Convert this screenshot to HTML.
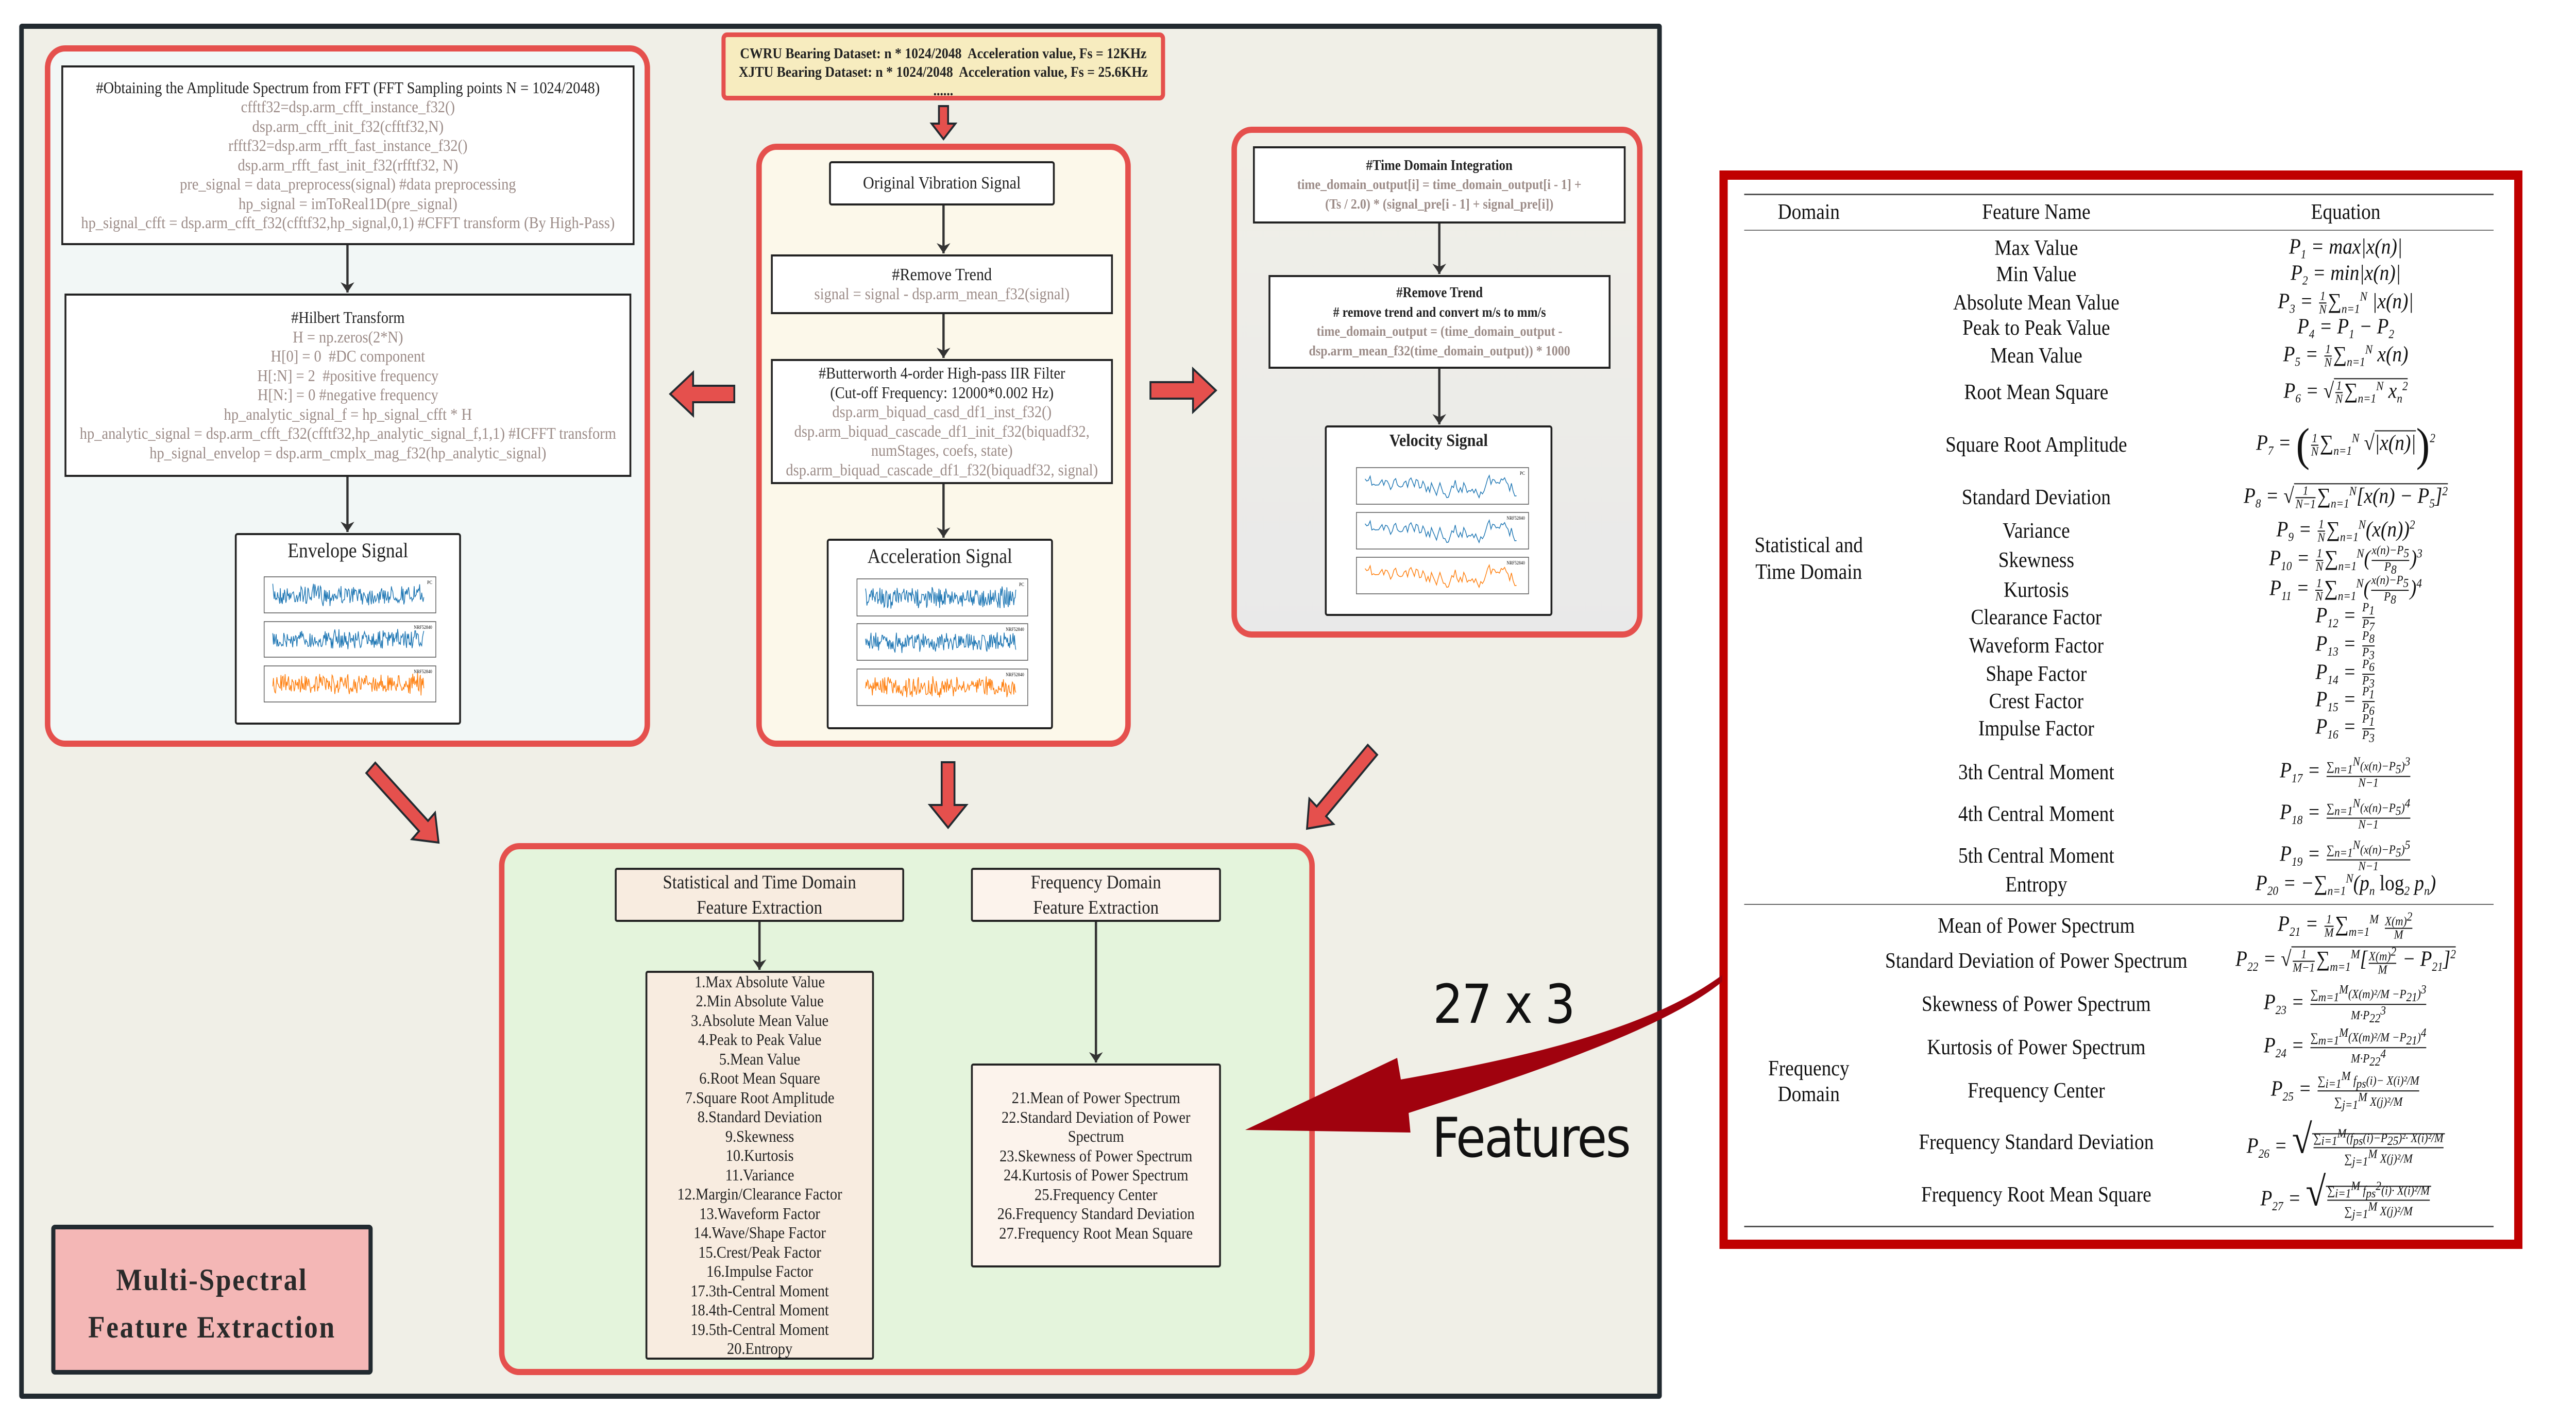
<!DOCTYPE html>
<html><head><meta charset="utf-8">
<style>
*{margin:0;padding:0;box-sizing:border-box}
html,body{overflow:hidden;background:#fff}
#wrap{position:absolute;left:0;top:0;width:5627px;height:2763px;overflow:hidden;font-family:"Liberation Serif",serif;color:#222;transform-origin:0 0}
.a{position:absolute}
.panel{position:absolute;border:12px solid #e5504d;border-radius:44px}
.box{position:absolute;border:4px solid #222;background:#fff;display:flex;flex-direction:column;justify-content:center;align-items:center;text-align:center;white-space:nowrap;overflow:hidden}
.box div{line-height:37.5px;font-size:32px}
.g{color:#9c8c88}
.h{color:#222}
.t{position:absolute;font-family:"Liberation Serif",serif;font-size:42px;color:#111;white-space:nowrap;transform:translate(-50%,-50%)}
.eq{font-style:italic}
.fr{display:inline-flex;flex-direction:column;vertical-align:middle;font-size:24px;line-height:24px;text-align:center;margin:0 3px}
.fr>span:first-child{border-bottom:2px solid #111}
sub,sup{font-size:24px}
.up{font-style:normal}
</style></head><body><div id="wrap">

<div class="a" style="left:42px;top:46px;width:3588px;height:2670px;background:#f0efe7;border:10px solid #222a30;border-radius:6px"></div>

<div class="panel" style="left:98px;top:88px;width:1322px;height:1362px;background:#f2f7f6"></div>
<div class="box" style="left:134px;top:127px;width:1252px;height:349px">
 <div class="h">#Obtaining the Amplitude Spectrum from FFT (FFT Sampling points N = 1024/2048)</div>
 <div class="g">cfftf32=dsp.arm_cfft_instance_f32()</div>
 <div class="g">dsp.arm_cfft_init_f32(cfftf32,N)</div>
 <div class="g">rfftf32=dsp.arm_rfft_fast_instance_f32()</div>
 <div class="g">dsp.arm_rfft_fast_init_f32(rfftf32, N)</div>
 <div class="g">pre_signal = data_preprocess(signal) #data preprocessing</div>
 <div class="g">hp_signal = imToReal1D(pre_signal)</div>
 <div class="g">hp_signal_cfft = dsp.arm_cfft_f32(cfftf32,hp_signal,0,1) #CFFT transform (By High-Pass)</div>
</div>
<div class="box" style="left:141px;top:570px;width:1238px;height:356px">
 <div class="h">#Hilbert Transform</div>
 <div class="g">H = np.zeros(2*N)</div>
 <div class="g">H[0] = 0&nbsp; #DC component</div>
 <div class="g">H[:N] = 2&nbsp; #positive frequency</div>
 <div class="g">H[N:] = 0 #negative frequency</div>
 <div class="g">hp_analytic_signal_f = hp_signal_cfft * H</div>
 <div class="g">hp_analytic_signal = dsp.arm_cfft_f32(cfftf32,hp_analytic_signal_f,1,1) #ICFFT transform</div>
 <div class="g">hp_signal_envelop = dsp.arm_cmplx_mag_f32(hp_analytic_signal)</div>
</div>
<div class="box" style="left:513px;top:1035px;width:494px;height:372px;justify-content:flex-start;border-radius:6px">
 <div style="font-size:40px;line-height:40px;margin-top:10px">Envelope Signal</div>
</div>

<div class="panel" style="left:1652px;top:279px;width:818px;height:1171px;background:#fcf8ea"></div>
<div class="a" style="left:1576px;top:63px;width:969px;height:132px;background:#f7ecbf;border:9px solid #e5504d;border-radius:12px;text-align:center;font-weight:bold;font-size:29px;line-height:36px;padding-top:14px;white-space:nowrap;overflow:hidden">
CWRU Bearing Dataset: n * 1024/2048&nbsp; Acceleration value, Fs = 12KHz<br>XJTU Bearing Dataset: n * 1024/2048&nbsp; Acceleration value, Fs = 25.6KHz<br>......</div>
<div class="box" style="left:1811px;top:313px;width:493px;height:86px;border-radius:6px"><div style="font-size:34px">Original Vibration Signal</div></div>
<div class="box" style="left:1684px;top:494px;width:747px;height:116px">
 <div class="h" style="font-size:34px">#Remove Trend</div>
 <div class="g">signal = signal - dsp.arm_mean_f32(signal)</div>
</div>
<div class="box" style="left:1684px;top:697px;width:747px;height:243px">
 <div class="h">#Butterworth 4-order High-pass IIR Filter</div>
 <div class="h">(Cut-off Frequency: 12000*0.002 Hz)</div>
 <div class="g">dsp.arm_biquad_casd_df1_inst_f32()</div>
 <div class="g">dsp.arm_biquad_cascade_df1_init_f32(biquadf32,</div>
 <div class="g">numStages, coefs, state)</div>
 <div class="g">dsp.arm_biquad_cascade_df1_f32(biquadf32, signal)</div>
</div>
<div class="box" style="left:1806px;top:1046px;width:494px;height:370px;justify-content:flex-start;border-radius:6px">
 <div style="font-size:40px;line-height:40px;margin-top:10px">Acceleration Signal</div>
</div>

<div class="panel" style="left:2690px;top:246px;width:898px;height:992px;background:linear-gradient(#f0efe7,#e9e9e9)"></div>
<div class="box" style="left:2737px;top:284px;width:814px;height:150px;font-weight:bold">
 <div class="h" style="font-size:28px">#Time Domain Integration</div>
 <div class="g" style="font-size:27px">time_domain_output[i] = time_domain_output[i - 1] +</div>
 <div class="g" style="font-size:27px">(Ts / 2.0) * (signal_pre[i - 1] + signal_pre[i])</div>
</div>
<div class="box" style="left:2771px;top:534px;width:747px;height:182px;font-weight:bold">
 <div class="h" style="font-size:28px">#Remove Trend</div>
 <div class="h" style="font-size:27px"># remove trend and convert m/s to mm/s</div>
 <div class="g" style="font-size:27px">time_domain_output = (time_domain_output -</div>
 <div class="g" style="font-size:27px">dsp.arm_mean_f32(time_domain_output)) * 1000</div>
</div>
<div class="box" style="left:2894px;top:826px;width:497px;height:370px;justify-content:flex-start;border-radius:6px">
 <div style="font-size:34px;line-height:36px;margin-top:8px;font-weight:bold">Velocity Signal</div>
</div>

<div class="panel" style="left:1090px;top:1637px;width:1782px;height:1033px;background:#e4f4dc"></div>
<div class="box" style="left:1343px;top:1685px;width:632px;height:105px;background:#f8ece0;border-radius:5px">
 <div style="font-size:37px;line-height:49px">Statistical and Time Domain</div><div style="font-size:37px;line-height:49px">Feature Extraction</div></div>
<div class="box" style="left:2121px;top:1685px;width:546px;height:105px;background:#fcf3ec;border-radius:5px">
 <div style="font-size:37px;line-height:49px">Frequency Domain</div><div style="font-size:37px;line-height:49px">Feature Extraction</div></div>
<div class="box" style="left:1410px;top:1885px;width:499px;height:755px;background:#f8ece0;border-radius:5px">
 <div>1.Max Absolute Value</div><div>2.Min Absolute Value</div><div>3.Absolute Mean Value</div><div>4.Peak to Peak Value</div><div>5.Mean Value</div><div>6.Root Mean Square</div><div>7.Square Root Amplitude</div><div>8.Standard Deviation</div><div>9.Skewness</div><div>10.Kurtosis</div><div>11.Variance</div><div>12.Margin/Clearance Factor</div><div>13.Waveform Factor</div><div>14.Wave/Shape Factor</div><div>15.Crest/Peak Factor</div><div>16.Impulse Factor</div><div>17.3th-Central Moment</div><div>18.4th-Central Moment</div><div>19.5th-Central Moment</div><div>20.Entropy</div>
</div>
<div class="box" style="left:2121px;top:2065px;width:546px;height:396px;background:#fcf3ec;border-radius:5px">
 <div>21.Mean of Power Spectrum</div><div>22.Standard Deviation of Power</div><div>Spectrum</div><div>23.Skewness of Power Spectrum</div><div>24.Kurtosis of Power Spectrum</div><div>25.Frequency Center</div><div>26.Frequency Standard Deviation</div><div>27.Frequency Root Mean Square</div>
</div>

<div class="a" style="left:112px;top:2378px;width:702px;height:291px;background:#f4b7b6;border:9px solid #222a30;border-radius:8px;text-align:center;font-weight:bold;font-size:60px;line-height:92px;letter-spacing:3px;padding-top:52px;color:#2a2a2a">Multi-Spectral<br>Feature Extraction</div>

<div class="a" style="left:3130px;top:1895px;font-family:'DejaVu Sans',sans-serif;font-size:104px;line-height:110px;color:#111;letter-spacing:-3px;white-space:nowrap">27 x 3</div>
<div class="a" style="left:3128px;top:2150px;font-family:'DejaVu Sans',sans-serif;font-size:106px;line-height:120px;color:#111;letter-spacing:-3px">Features</div>

<div class="a" style="left:3756px;top:331px;width:1754px;height:2094px;background:#fff;border:18px solid #c00000"></div>
<div class="a" style="left:3810px;top:376px;width:1637px;height:3px;background:#555"></div>
<div class="a" style="left:3810px;top:446px;width:1637px;height:2px;background:#777"></div>
<div class="a" style="left:3810px;top:1755px;width:1637px;height:2px;background:#666"></div>
<div class="a" style="left:3810px;top:2380px;width:1637px;height:3px;background:#555"></div>

<div class="t" style="left:3951px;top:412px">Domain</div>
<div class="t" style="left:4448px;top:412px">Feature Name</div>
<div class="t" style="left:5124px;top:412px">Equation</div>
<div class="t" style="left:3951px;top:1085px;text-align:center;line-height:52px">Statistical and<br>Time Domain</div>
<div class="t" style="left:3951px;top:2100px;text-align:center;line-height:50px">Frequency<br>Domain</div>

<div class="t" style="left:4448px;top:482px">Max Value</div>
<div class="t" style="left:4448px;top:533px">Min Value</div>
<div class="t" style="left:4448px;top:588px">Absolute Mean Value</div>
<div class="t" style="left:4448px;top:637px">Peak to Peak Value</div>
<div class="t" style="left:4448px;top:691px">Mean Value</div>
<div class="t" style="left:4448px;top:762px">Root Mean Square</div>
<div class="t" style="left:4448px;top:864px">Square Root Amplitude</div>
<div class="t" style="left:4448px;top:966px">Standard Deviation</div>
<div class="t" style="left:4448px;top:1031px">Variance</div>
<div class="t" style="left:4448px;top:1088px">Skewness</div>
<div class="t" style="left:4448px;top:1146px">Kurtosis</div>
<div class="t" style="left:4448px;top:1199px">Clearance Factor</div>
<div class="t" style="left:4448px;top:1254px">Waveform Factor</div>
<div class="t" style="left:4448px;top:1309px">Shape Factor</div>
<div class="t" style="left:4448px;top:1362px">Crest Factor</div>
<div class="t" style="left:4448px;top:1415px">Impulse Factor</div>
<div class="t" style="left:4448px;top:1500px">3th Central Moment</div>
<div class="t" style="left:4448px;top:1581px">4th Central Moment</div>
<div class="t" style="left:4448px;top:1662px">5th Central Moment</div>
<div class="t" style="left:4448px;top:1718px">Entropy</div>
<div class="t" style="left:4448px;top:1798px">Mean of Power Spectrum</div>
<div class="t" style="left:4448px;top:1866px">Standard Deviation of Power Spectrum</div>
<div class="t" style="left:4448px;top:1950px">Skewness of Power Spectrum</div>
<div class="t" style="left:4448px;top:2034px">Kurtosis of Power Spectrum</div>
<div class="t" style="left:4448px;top:2118px">Frequency Center</div>
<div class="t" style="left:4448px;top:2218px">Frequency Standard Deviation</div>
<div class="t" style="left:4448px;top:2320px">Frequency Root Mean Square</div>

<div class="t eq" style="left:5124px;top:482px">P<sub>1</sub> = max|x(n)|</div>
<div class="t eq" style="left:5124px;top:533px">P<sub>2</sub> = min|x(n)|</div>
<div class="t eq" style="left:5124px;top:588px">P<sub>3</sub> = <span class="fr"><span>1</span><span>N</span></span><span class="up">∑</span><sub>n=1</sub><sup>N</sup> |x(n)|</div>
<div class="t eq" style="left:5124px;top:637px">P<sub>4</sub> = P<sub>1</sub> − P<sub>2</sub></div>
<div class="t eq" style="left:5124px;top:691px">P<sub>5</sub> = <span class="fr"><span>1</span><span>N</span></span><span class="up">∑</span><sub>n=1</sub><sup>N</sup> x(n)</div>
<div class="t eq" style="left:5124px;top:762px">P<sub>6</sub> = <span class="up">√</span><span style="border-top:2px solid #111"><span class="fr"><span>1</span><span>N</span></span><span class="up">∑</span><sub>n=1</sub><sup>N</sup> x<sub>n</sub><sup>2</sup></span></div>
<div class="t eq" style="left:5124px;top:864px">P<sub>7</sub> = <span class="up" style="font-size:90px;vertical-align:middle">(</span><span class="fr"><span>1</span><span>N</span></span><span class="up">∑</span><sub>n=1</sub><sup>N</sup> <span class="up">√</span><span style="border-top:2px solid #111">|x(n)|</span><span class="up" style="font-size:90px;vertical-align:middle">)</span><sup>2</sup></div>
<div class="t eq" style="left:5124px;top:966px">P<sub>8</sub> = <span class="up">√</span><span style="border-top:2px solid #111"><span class="fr"><span>1</span><span>N−1</span></span><span class="up">∑</span><sub>n=1</sub><sup>N</sup>[x(n) − P<sub>5</sub>]<sup>2</sup></span></div>
<div class="t eq" style="left:5124px;top:1031px">P<sub>9</sub> = <span class="fr"><span>1</span><span>N</span></span><span class="up">∑</span><sub>n=1</sub><sup>N</sup>(x(n))<sup>2</sup></div>
<div class="t eq" style="left:5124px;top:1088px">P<sub>10</sub> = <span class="fr"><span>1</span><span>N</span></span><span class="up">∑</span><sub>n=1</sub><sup>N</sup>(<span class="fr"><span>x(n)−P<sub>5</sub></span><span>P<sub>8</sub></span></span>)<sup>3</sup></div>
<div class="t eq" style="left:5124px;top:1146px">P<sub>11</sub> = <span class="fr"><span>1</span><span>N</span></span><span class="up">∑</span><sub>n=1</sub><sup>N</sup>(<span class="fr"><span>x(n)−P<sub>5</sub></span><span>P<sub>8</sub></span></span>)<sup>4</sup></div>
<div class="t eq" style="left:5124px;top:1199px">P<sub>12</sub> = <span class="fr"><span>P<sub>1</sub></span><span>P<sub>7</sub></span></span></div>
<div class="t eq" style="left:5124px;top:1254px">P<sub>13</sub> = <span class="fr"><span>P<sub>8</sub></span><span>P<sub>3</sub></span></span></div>
<div class="t eq" style="left:5124px;top:1309px">P<sub>14</sub> = <span class="fr"><span>P<sub>6</sub></span><span>P<sub>3</sub></span></span></div>
<div class="t eq" style="left:5124px;top:1362px">P<sub>15</sub> = <span class="fr"><span>P<sub>1</sub></span><span>P<sub>6</sub></span></span></div>
<div class="t eq" style="left:5124px;top:1415px">P<sub>16</sub> = <span class="fr"><span>P<sub>1</sub></span><span>P<sub>3</sub></span></span></div>
<div class="t eq" style="left:5124px;top:1500px">P<sub>17</sub> = <span class="fr"><span>∑<sub>n=1</sub><sup>N</sup>(x(n)−P<sub>5</sub>)<sup>3</sup></span><span>N−1</span></span></div>
<div class="t eq" style="left:5124px;top:1581px">P<sub>18</sub> = <span class="fr"><span>∑<sub>n=1</sub><sup>N</sup>(x(n)−P<sub>5</sub>)<sup>4</sup></span><span>N−1</span></span></div>
<div class="t eq" style="left:5124px;top:1662px">P<sub>19</sub> = <span class="fr"><span>∑<sub>n=1</sub><sup>N</sup>(x(n)−P<sub>5</sub>)<sup>5</sup></span><span>N−1</span></span></div>
<div class="t eq" style="left:5124px;top:1718px">P<sub>20</sub> = −<span class="up">∑</span><sub>n=1</sub><sup>N</sup>(p<sub>n</sub> <span class="up">log</span><sub>2</sub> p<sub>n</sub>)</div>
<div class="t eq" style="left:5124px;top:1798px">P<sub>21</sub> = <span class="fr"><span>1</span><span>M</span></span><span class="up">∑</span><sub>m=1</sub><sup>M</sup> <span class="fr"><span>X(m)<sup>2</sup></span><span>M</span></span></div>
<div class="t eq" style="left:5124px;top:1866px">P<sub>22</sub> = <span class="up">√</span><span style="border-top:2px solid #111"><span class="fr"><span>1</span><span>M−1</span></span><span class="up">∑</span><sub>m=1</sub><sup>M</sup>[<span class="fr"><span>X(m)<sup>2</sup></span><span>M</span></span> − P<sub>21</sub>]<sup>2</sup></span></div>
<div class="t eq" style="left:5124px;top:1950px">P<sub>23</sub> = <span class="fr"><span>∑<sub>m=1</sub><sup>M</sup>(X(m)²/M −P<sub>21</sub>)<sup>3</sup></span><span>M·P<sub>22</sub><sup>3</sup></span></span></div>
<div class="t eq" style="left:5124px;top:2034px">P<sub>24</sub> = <span class="fr"><span>∑<sub>m=1</sub><sup>M</sup>(X(m)²/M −P<sub>21</sub>)<sup>4</sup></span><span>M·P<sub>22</sub><sup>4</sup></span></span></div>
<div class="t eq" style="left:5124px;top:2118px">P<sub>25</sub> = <span class="fr"><span>∑<sub>i=1</sub><sup>M</sup> f<sub>ps</sub>(i)− X(i)²/M</span><span>∑<sub>j=1</sub><sup>M</sup> X(j)²/M</span></span></div>
<div class="t eq" style="left:5124px;top:2218px">P<sub>26</sub> = <span class="up" style="font-size:80px">√</span><span style="border-top:2px solid #111"><span class="fr"><span>∑<sub>i=1</sub><sup>M</sup>(f<sub>ps</sub>(i)−P<sub>25</sub>)²· X(i)²/M</span><span>∑<sub>j=1</sub><sup>M</sup> X(j)²/M</span></span></span></div>
<div class="t eq" style="left:5124px;top:2320px">P<sub>27</sub> = <span class="up" style="font-size:80px">√</span><span style="border-top:2px solid #111"><span class="fr"><span>∑<sub>i=1</sub><sup>M</sup> f<sub>ps</sub><sup>2</sup>(i)· X(i)²/M</span><span>∑<sub>j=1</sub><sup>M</sup> X(j)²/M</span></span></span></div>

<svg class="a" style="left:0;top:0" width="5627" height="2763" viewBox="0 0 5627 2763">
<defs>
<marker id="ah2" viewBox="0 0 20 30" refX="20" refY="15" markerWidth="20" markerHeight="30" orient="auto" markerUnits="userSpaceOnUse"><path d="M0,0 L20,15 L0,30 L6,15 Z" fill="#333"/></marker></defs>
<g stroke="#333" stroke-width="5" marker-end="url(#ah2)">
<line x1="759" y1="476" x2="759" y2="568"/>
<line x1="759" y1="926" x2="759" y2="1033"/>
<line x1="2061" y1="399" x2="2061" y2="492"/>
<line x1="2061" y1="610" x2="2061" y2="695"/>
<line x1="2061" y1="940" x2="2061" y2="1044"/>
<line x1="3144" y1="434" x2="3144" y2="532"/>
<line x1="3144" y1="716" x2="3144" y2="824"/>
<line x1="1659" y1="1790" x2="1659" y2="1883"/>
<line x1="2394" y1="1790" x2="2394" y2="2063"/>
</g>
<g fill="#e5504d" stroke="#222a30" stroke-width="4" id="bigarrows"></g>
<path d="M3762,1893 C3600,2000 3320,2055 3060,2096 L3052,2054 L2720,2194 L3081,2199 L3077,2161 C3360,2080 3640,1995 3762,1906 Z" fill="#a0020e"/>
<g id="charts"></g>
</svg>

<script>
(function(){
 var w=window.innerWidth||document.documentElement.clientWidth||5627;
 var h=window.innerHeight||document.documentElement.clientHeight||2763;
 var sx=w/5627, sy=h/2763;
 if(sx>0&&sy>0&&(Math.abs(sx-1)>0.005||Math.abs(sy-1)>0.005)){document.getElementById("wrap").style.transform="scale("+sx+","+sy+")";}
})();
var NS="http://www.w3.org/2000/svg";
function arrow(x1,y1,x2,y2,w,H,h){
 var L=Math.hypot(x2-x1,y2-y1),a=Math.atan2(y2-y1,x2-x1)*180/Math.PI;
 var p=document.createElementNS(NS,"polygon");
 var pts=[[0,-w],[L-h,-w],[L-h,-H],[L,0],[L-h,H],[L-h,w],[0,w]].map(function(q){return q[0]+","+q[1];}).join(" ");
 p.setAttribute("points",pts);
 p.setAttribute("transform","translate("+x1+","+y1+") rotate("+a+")");
 document.getElementById("bigarrows").appendChild(p);
}
arrow(2061,206,2061,270,10,26,30);
arrow(1604,765,1464,765,16,42,50);
arrow(2513,758,2656,758,16,42,50);
arrow(2071,1480,2071,1607,14,40,44);
arrow(810,1491,958,1636,14,36,46);
arrow(2998,1456,2855,1609,14,36,46);

var seed=7;function rnd(){seed=(seed*16807)%2147483647;return seed/2147483647;}
function panel(x,y,w,h,color,smooth,lbl){
 var g=document.getElementById("charts");
 var r=document.createElementNS(NS,"rect");
 r.setAttribute("x",x);r.setAttribute("y",y);r.setAttribute("width",w);r.setAttribute("height",h);
 r.setAttribute("fill","#fff");r.setAttribute("stroke","#555");r.setAttribute("stroke-width","1.5");g.appendChild(r);
 var pts=[],n=smooth?90:220,v=0;
 for(var i=0;i<n;i++){
  var px=x+w*0.05+i*(w*0.88)/(n-1);
  if(smooth){v=0.6*v+(rnd()-0.5)*1.2;}else{v=(rnd()-0.5)*2*(0.5+0.5*rnd());}
  var py=y+h*0.5+v*h*0.32;
  pts.push(px.toFixed(1)+","+py.toFixed(1));
 }
 var pl=document.createElementNS(NS,"polyline");
 pl.setAttribute("points",pts.join(" "));pl.setAttribute("fill","none");pl.setAttribute("stroke",color);pl.setAttribute("stroke-width","1.6");
 g.appendChild(pl);
 var t=document.createElementNS(NS,"text");t.setAttribute("x",x+w-8);t.setAttribute("y",y+14);t.setAttribute("font-size","9");t.setAttribute("text-anchor","end");t.setAttribute("font-family","Liberation Serif");t.textContent=lbl;g.appendChild(t);
}
var B="#1f77b4",O="#ff7f0e";
panel(577,1120,375,70,B,false,"PC");panel(577,1207,375,69,B,false,"NRF52840");panel(577,1293,375,70,O,false,"NRF52840");
panel(1872,1124,373,72,B,false,"PC");panel(1872,1211,373,71,B,false,"NRF52840");panel(1872,1299,373,71,O,false,"NRF52840");
seed=11;panel(2963,908,376,71,B,true,"PC");seed=11;panel(2963,995,376,71,B,true,"NRF52840");seed=11;panel(2963,1082,376,71,O,true,"NRF52840");
</script>
</div></body></html>
